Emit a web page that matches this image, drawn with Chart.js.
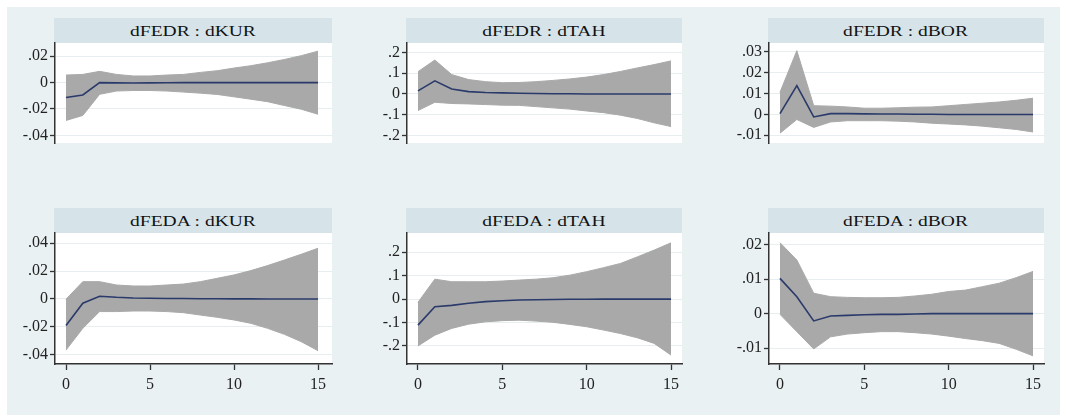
<!DOCTYPE html>
<html lang="en">
<head>
<meta charset="UTF-8">
<title>IRF panels</title>
<script src="https://cdn.jsdelivr.net/npm/chart.js"></script>
<style>
    body {
        margin: 0;
        background: #fff;
    }
    #wrap {
        position: relative;
        width: 1066px;
        height: 417px;
        background: #fff;
        overflow: hidden;
    }
    #bg {
        position: absolute;
        left: 7px;
        top: 7px;
        width: 1053px;
        height: 408px;
        background: #eaf1f2;
    }
    .head {
        position: absolute;
        background: #d6e4ea;
        color: #111;
        font: 15.5px "Liberation Serif", serif;
        text-align: center;
        height: 25px;
        line-height: 26px;
    }
    .head span {
        display: inline-block;
        transform: scaleX(1.26);
    }
    canvas {
        position: absolute;
    }
</style>
</head>
<body>
<div id="wrap"><div id="bg"></div></div>

<script>
    // steps of the impulse response
    const steps = [0, 1, 2, 3, 4, 5, 6, 7, 8, 9, 10, 11, 12, 13, 14, 15];
    const xTicks = [0, 5, 10, 15];

    const titles = ['dFEDR : dKUR', 'dFEDR : dTAH', 'dFEDR : dBOR',
                    'dFEDA : dKUR', 'dFEDA : dTAH', 'dFEDA : dBOR'];

    // dFEDR : dKUR
    const irf1 = [-0.0113, -0.0094, 0, -0.0002, -0.0003, -0.0002, -0.0001, 0, 0, 0, 0, 0, 0, 0, 0, 0];
    const hi1 = [0.0057, 0.0062, 0.0085, 0.0062, 0.0050, 0.0050, 0.0057, 0.0062, 0.0077, 0.0090, 0.0110, 0.0128, 0.0150, 0.0175, 0.0204, 0.0238];
    const lo1 = [-0.0287, -0.0249, -0.0089, -0.0064, -0.0060, -0.0060, -0.0064, -0.0072, -0.0080, -0.0090, -0.0108, -0.0126, -0.0145, -0.0174, -0.0202, -0.0240];
    const yTicks1 = [-0.04, -0.02, 0, 0.02];

    // dFEDR : dTAH
    const irf2 = [0.0145, 0.063, 0.024, 0.011, 0.007, 0.005, 0.003, 0.002, 0.001, 0.001, 0, 0, 0, 0, 0, 0];
    const hi2 = [0.107, 0.163, 0.093, 0.069, 0.059, 0.054, 0.055, 0.059, 0.065, 0.072, 0.081, 0.093, 0.108, 0.125, 0.141, 0.159];
    const lo2 = [-0.080, -0.040, -0.046, -0.048, -0.051, -0.054, -0.055, -0.061, -0.067, -0.073, -0.082, -0.090, -0.102, -0.118, -0.139, -0.157];
    const yTicks2 = [-0.2, -0.1, 0, 0.1, 0.2];

    // dFEDR : dBOR
    const irf3 = [0.0004, 0.0138, -0.0012, 0.0004, 0.0004, 0.0003, 0.0002, 0.0002, 0.0001, 0.0001, 0, 0, 0, 0, 0, 0];
    const hi3 = [0.0106, 0.0306, 0.0042, 0.0040, 0.0036, 0.0030, 0.0030, 0.0032, 0.0035, 0.0036, 0.0042, 0.0048, 0.0054, 0.0060, 0.0068, 0.0078];
    const lo3 = [-0.0090, -0.0024, -0.0062, -0.0036, -0.0030, -0.0030, -0.0030, -0.0032, -0.0036, -0.0042, -0.0046, -0.0050, -0.0056, -0.0064, -0.0072, -0.0084];
    const yTicks3 = [-0.01, 0, 0.01, 0.02, 0.03];

    // dFEDA : dKUR
    const irf4 = [-0.019, -0.003, 0.002, 0.0012, 0.0007, 0.0005, 0.0004, 0.0003, 0.0002, 0.0002, 0.0001, 0.0001, 0, 0, 0, 0];
    const hi4 = [-0.0002, 0.0124, 0.0124, 0.0100, 0.0093, 0.0093, 0.0100, 0.0107, 0.0124, 0.0148, 0.0172, 0.0203, 0.0239, 0.0279, 0.0320, 0.0363];
    const lo4 = [-0.0365, -0.0210, -0.0090, -0.0090, -0.0086, -0.0086, -0.0090, -0.0098, -0.0115, -0.0131, -0.0150, -0.0174, -0.0210, -0.0253, -0.0305, -0.0370];
    const yTicks4 = [-0.04, -0.02, 0, 0.02, 0.04];

    // dFEDA : dTAH
    const irf5 = [-0.111, -0.033, -0.027, -0.018, -0.011, -0.007, -0.004, -0.003, -0.0015, -0.001, -0.001, 0, 0, 0, 0, 0];
    const hi5 = [-0.014, 0.085, 0.074, 0.074, 0.074, 0.077, 0.081, 0.085, 0.091, 0.102, 0.117, 0.134, 0.152, 0.180, 0.209, 0.240];
    const lo5 = [-0.200, -0.154, -0.125, -0.107, -0.097, -0.092, -0.090, -0.094, -0.099, -0.108, -0.118, -0.132, -0.147, -0.165, -0.189, -0.239];
    const yTicks5 = [-0.2, -0.1, 0, 0.1, 0.2];

    // dFEDA : dBOR
    const irf6 = [0.0102, 0.0049, -0.0021, -0.0007, -0.0005, -0.0003, -0.0002, -0.0002, -0.0001, 0, 0, 0, 0, 0, 0, 0];
    const hi6 = [0.0205, 0.0155, 0.0059, 0.0049, 0.0047, 0.0046, 0.0046, 0.0047, 0.0051, 0.0056, 0.0064, 0.0068, 0.0078, 0.0088, 0.0104, 0.0122];
    const lo6 = [-0.0002, -0.0052, -0.0102, -0.0067, -0.0059, -0.0055, -0.0052, -0.0052, -0.0055, -0.0059, -0.0065, -0.0072, -0.0078, -0.0086, -0.0103, -0.0122];
    const yTicks6 = [-0.01, 0, 0.01, 0.02];

    const irfs = [irf1, irf2, irf3, irf4, irf5, irf6];
    const his = [hi1, hi2, hi3, hi4, hi5, hi6];
    const los = [lo1, lo2, lo3, lo4, lo5, lo6];
    const yTicks = [yTicks1, yTicks2, yTicks3, yTicks4, yTicks5, yTicks6];

    // axis ranges (plot region margins like Stata)
    const yRange = [[-0.0458, 0.030], [-0.236, 0.245], [-0.0137, 0.0343],
                    [-0.0465, 0.0472], [-0.277, 0.282], [-0.01455, 0.0233]];
    const xRange = [[-0.655, 15.83], [-0.65, 15.65], [-0.65, 15.65]];

    // layout in page pixels
    const colAxis = [55, 407, 769];
    const colRight = [332, 682, 1044];
    const rowHead = [18, 208];
    const rowTop = [43, 233];
    const rowBottom = [177, 364];
    const YW = 50, PAD = 14, PADR = 16, XH = 34;

    Chart.defaults.font.family = '"Liberation Serif", serif';
    Chart.defaults.font.size = 16;
    Chart.defaults.color = '#222';

    const plotBg = {
        id: 'plotBg',
        beforeDraw(chart) {
            const a = chart.chartArea;
            const c = chart.ctx;
            c.save();
            c.fillStyle = '#ffffff';
            c.fillRect(a.left, a.top, a.right - a.left, a.bottom - a.top);
            c.restore();
        }
    };

    function fmt(v) {
        if (v === 0) return '0';
        const s = String(Math.abs(v)).replace(/^0/, '');
        return (v < 0 ? '-' : '') + s;
    }

    const wrap = document.getElementById('wrap');

    for (let i = 0; i < 6; i++) {
        const col = i % 3, row = Math.floor(i / 3);

        const head = document.createElement('div');
        head.className = 'head';
        head.style.left = (colAxis[col] - 1) + 'px';
        head.style.top = rowHead[row] + 'px';
        head.style.width = (colRight[col] - colAxis[col] + 1) + 'px';
        const sp = document.createElement('span');
        sp.textContent = titles[i];
        head.appendChild(sp);
        wrap.appendChild(head);

        const w = colRight[col] - colAxis[col] + YW + PADR;
        const h = rowBottom[row] - rowTop[row] + PAD + (row === 0 ? PAD : XH);
        const cv = document.createElement('canvas');
        cv.width = w;
        cv.height = h;
        cv.style.width = w + 'px';
        cv.style.height = h + 'px';
        cv.style.left = (colAxis[col] - YW) + 'px';
        cv.style.top = (rowTop[row] - PAD) + 'px';
        wrap.appendChild(cv);

        const pts = arr => steps.map((s, k) => ({ x: s, y: arr[k] }));

        // first dataset is drawn on top
        new Chart(cv, {
            type: 'line',
            data: {
                datasets: [
                    { data: pts(irfs[i]), borderColor: '#2a3a6a', borderWidth: 1.6, pointRadius: 0, fill: false },
                    { data: pts(los[i]), borderColor: '#a9a9a9', borderWidth: 1, pointRadius: 0, fill: false },
                    { data: pts(his[i]), borderColor: '#a9a9a9', borderWidth: 1, pointRadius: 0, fill: 1, backgroundColor: '#a9a9a9' }
                ]
            },
            options: {
                responsive: false,
                animation: false,
                layout: { padding: { top: PAD, right: PADR, bottom: row === 0 ? PAD : 0, left: 0 } },
                plugins: { legend: { display: false }, tooltip: { enabled: false } },
                elements: { line: { tension: 0 } },
                scales: {
                    x: {
                        type: 'linear',
                        display: row === 1,
                        min: xRange[col][0],
                        max: xRange[col][1],
                        afterBuildTicks: s => { s.ticks = xTicks.map(v => ({ value: v })); },
                        afterFit: s => { s.height = XH; },
                        grid: { drawOnChartArea: false, drawTicks: true, tickLength: 6, tickColor: '#333', tickWidth: 1.3 },
                        border: { display: true, color: '#333', width: 1.5 },
                        ticks: { padding: 5, maxRotation: 0, callback: v => String(v) }
                    },
                    y: {
                        min: yRange[i][0],
                        max: yRange[i][1],
                        afterBuildTicks: s => { s.ticks = yTicks[i].map(v => ({ value: v })); },
                        afterFit: s => { s.width = YW; },
                        grid: { color: '#e6eef0', lineWidth: 1, drawTicks: true, tickLength: 5, tickColor: '#333', tickWidth: 1.3 },
                        border: { display: true, color: '#333', width: 1.5 },
                        ticks: { padding: 2, callback: v => fmt(v) }
                    }
                }
            },
            plugins: [plotBg]
        });
    }
</script>
</body>
</html>
